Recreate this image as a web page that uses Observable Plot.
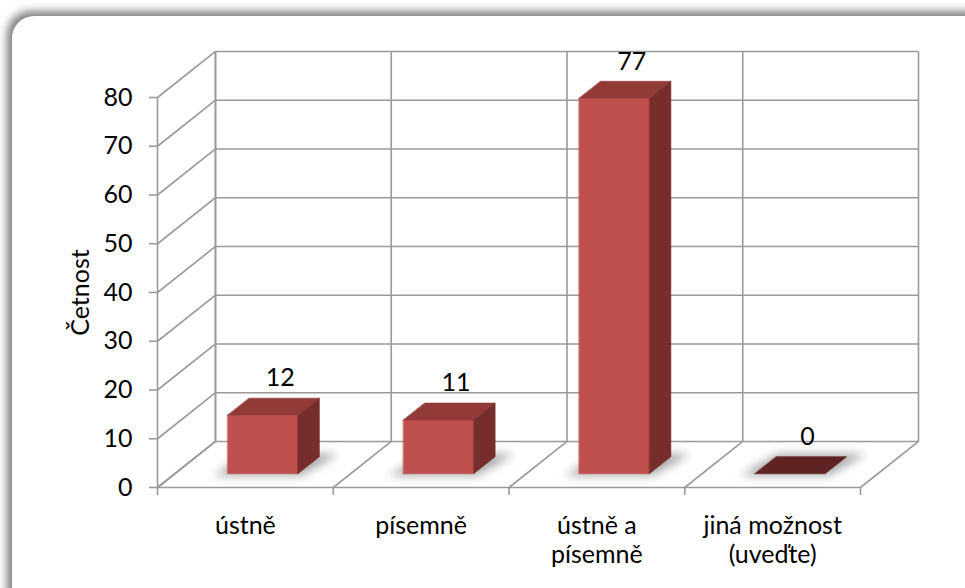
<!DOCTYPE html>
<html><head><meta charset="utf-8">
<script src="https://cdn.jsdelivr.net/npm/d3@7"></script>
<script src="https://cdn.jsdelivr.net/npm/@observablehq/plot@0.6"></script>
<style>
html,body{margin:0;padding:0;background:#fff;}
#wrap{position:relative;width:965px;height:588px;overflow:hidden;background:#fff;}
#frame{position:absolute;left:12px;top:16px;width:990px;height:620px;border-radius:22px;background:#fff;box-shadow:-3px -3px 9px 2px rgba(0,0,0,0.5);}
#chart{position:absolute;left:0;top:0;}
</style></head><body>
<div id="wrap"><div id="frame"></div><div id="chart"></div></div>
<script>
// ---- data ----
const categories = ["ústně", "písemně", "ústně a\npísemně", "jiná možnost\n(uveďte)"];
const values = [12, 11, 77, 0];
const yTicks = [0, 10, 20, 30, 40, 50, 60, 70, 80];
const yAxisTitle = "Četnost";

// ---- 3D projection helpers (data units) ----
const DX = 0.33, DY = 9.44;          // depth offset in category / value units
const P = (c, v, d) => ({x: c + d * DX, y: v + d * DY});
const yMax = yTicks[yTicks.length - 1];
const nCat = categories.length;
const boundaries = d3.range(nCat + 1);
const grid = "#9a9a9a";

// walls & floor segments
const segs = [];
const seg = (a, b) => segs.push({x1: a.x, y1: a.y, x2: b.x, y2: b.y});
yTicks.forEach(v => {
  seg(P(0, v, 1), P(nCat, v, 1));     // back wall horizontal
  seg(P(0, v, 0), P(0, v, 1));        // left wall diagonal
});
seg(P(0, 0, 0), P(0, yMax, 0));       // left wall front edge
seg(P(0, 0, 1), P(0, yMax, 1));       // left wall back edge
boundaries.forEach(c => {
  seg(P(c, 0, 1), P(c, yMax, 1));     // back wall verticals
  seg(P(c, 0, 0), P(c, 0, 1));        // floor diagonals
});
seg(P(0, 0, 0), P(nCat, 0, 0));       // front floor edge

// bar faces
const half = 0.2, d0 = 0.3, d1 = 0.67;
const faces = [], shadows = [];
values.forEach((v, i) => {
  const c0 = i + 0.5 - half, c1 = i + 0.5 + half;
  const add = (arr, id, fill, pts) => pts.forEach(p => arr.push({...p, id, fill}));
  add(shadows, "s" + i, "sh", [P(c0 - 0.07, 0, d0 - 0.04), P(c1 + 0.03, 0, d0 - 0.04), P(c1 + 0.09, 0, d1 + 0.06), P(c0 - 0.01, 0, d1 + 0.06)]);
  if (v > 0) {
    add(faces, "f" + i, "#c0504d", [P(c0, 0, d0), P(c1, 0, d0), P(c1, v, d0), P(c0, v, d0)]);
    add(faces, "t" + i, "#923a38", [P(c0, v, d0), P(c1, v, d0), P(c1, v, d1), P(c0, v, d1)]);
    add(faces, "r" + i, "#772d2b", [P(c1, 0, d0), P(c1, 0, d1), P(c1, v, d1), P(c1, v, d0)]);
  } else {
    add(faces, "t" + i, "#5e2322", [P(c0, 0, d0), P(c1, 0, d0), P(c1, 0, d1), P(c0, 0, d1)]);
  }
});

const valueLabels = values.map((v, i) => ({...P(i + 0.5, v, 0.6), t: String(v)}));
const catLabels = categories.map((c, i) => ({x: i + 0.5, y: 0, t: c}));

const FS = 25;
const chart = Plot.plot({
  width: 965, height: 588,
  marginLeft: 157, marginRight: 105, marginTop: 97, marginBottom: 101,
  style: {fontFamily: "Lato, sans-serif", fontSize: FS + "px", background: "transparent", color: "#000"},
  x: {domain: [0, nCat], axis: null, label: null},
  y: {domain: [0, yMax], axis: null, label: null},
  marks: [
    Plot.link(segs, {x1: "x1", y1: "y1", x2: "x2", y2: "y2", stroke: grid, strokeWidth: 1.6}),
    Plot.axisY(yTicks, {tickSize: 8, tickPadding: 17, fontSize: FS, stroke: grid, strokeWidth: 1.6, fill: "#000", label: null}),
    Plot.axisX(boundaries, {tickSize: 8, tickFormat: () => "", stroke: grid, strokeWidth: 1.6, label: null}),
    Plot.line(shadows, {x: "x", y: "y", z: "id", fill: "#8a8a8a", fillOpacity: 0.75, stroke: "none", curve: "linear-closed"}),
    Plot.line(faces, {x: "x", y: "y", z: "id", fill: "fill", stroke: "fill", strokeWidth: 0.6, curve: "linear-closed"}),
    Plot.text(valueLabels, {x: "x", y: "y", text: "t", dy: -23, fontSize: FS, fill: "#000"}),
    Plot.text(catLabels, {x: "x", y: "y", text: "t", lineAnchor: "top", dy: 26, lineHeight: 1.15, fontSize: FS, fill: "#000"}),
    Plot.text([yAxisTitle], {frameAnchor: "left", textAnchor: "middle", text: d => d, rotate: -90, dx: -77, fontSize: FS, fill: "#000"})
  ]
});
chart.querySelectorAll('g[fill="#8a8a8a"]').forEach(g => g.style.filter = "blur(5px)");
document.getElementById("chart").appendChild(chart);
</script>
</body></html>
